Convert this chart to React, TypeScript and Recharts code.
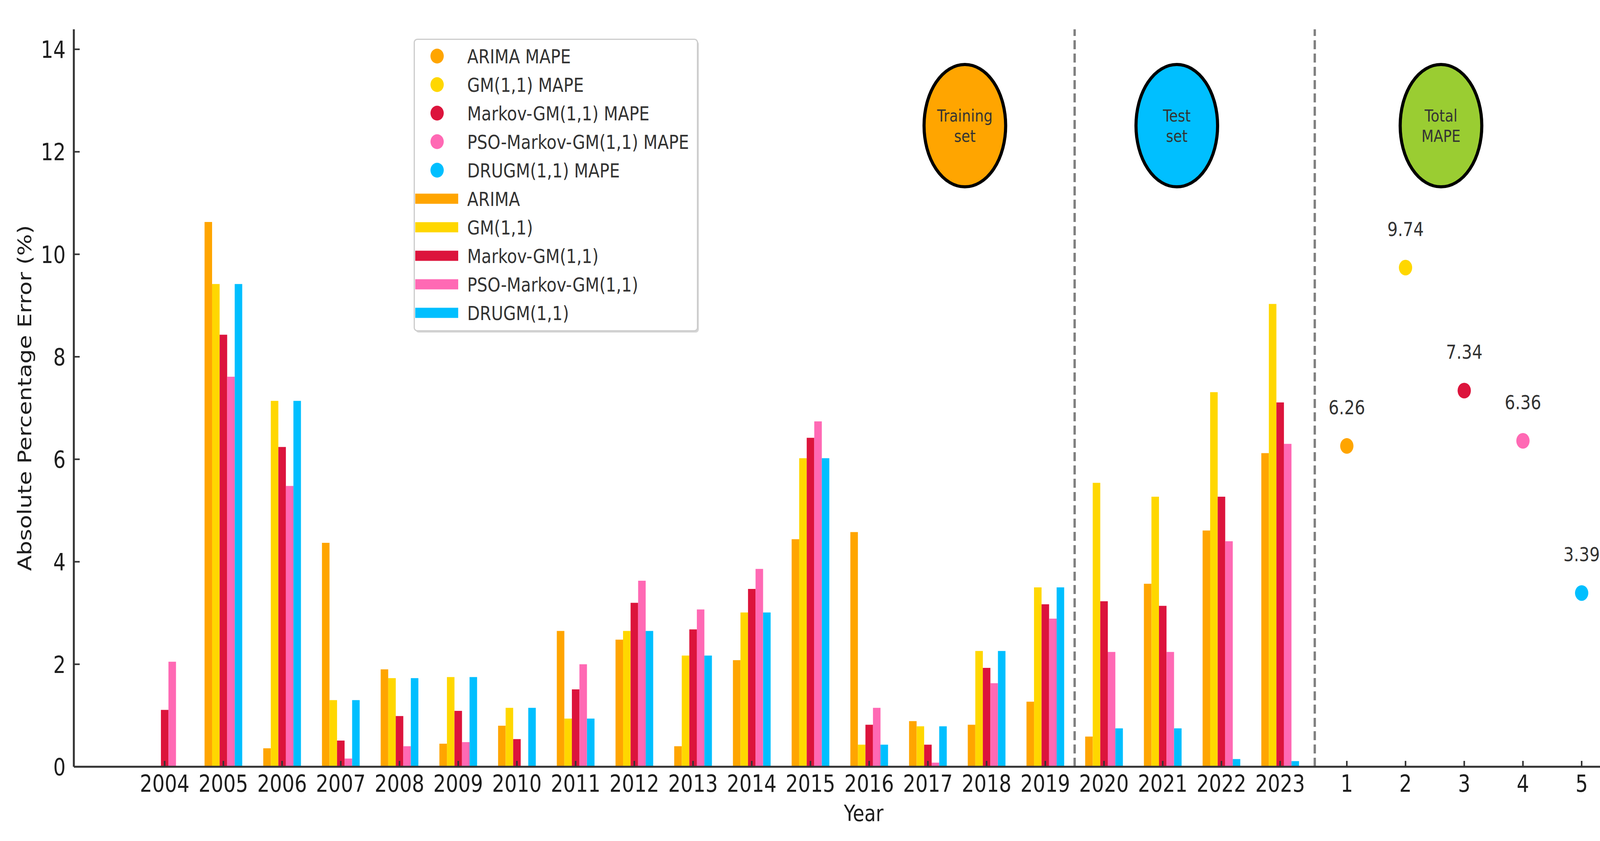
import React from 'react';
import {
  ComposedChart, Bar, Scatter, XAxis, YAxis, Legend, ReferenceLine, ReferenceArea,
} from 'recharts';

// ---------- data ----------
const years = ['2004','2005','2006','2007','2008','2009','2010','2011','2012','2013','2014','2015','2016','2017','2018','2019','2020','2021','2022','2023'];
const arima = [0, 10.63, 0.36, 4.37, 1.90, 0.45, 0.80, 2.65, 2.48, 0.40, 2.08, 4.44, 4.58, 0.89, 0.82, 1.27, 0.59, 3.57, 4.61, 6.12];
const gm11 = [0, 9.42, 7.14, 1.30, 1.73, 1.75, 1.15, 0.94, 2.65, 2.17, 3.01, 6.02, 0.43, 0.79, 2.26, 3.50, 5.54, 5.27, 7.31, 9.03];
const markovGm = [1.11, 8.43, 6.24, 0.51, 0.99, 1.09, 0.54, 1.51, 3.20, 2.68, 3.47, 6.42, 0.82, 0.43, 1.93, 3.17, 3.23, 3.14, 5.27, 7.11];
const psoMarkovGm = [2.05, 7.61, 5.48, 0.16, 0.40, 0.48, 0, 2.00, 3.63, 3.07, 3.86, 6.74, 1.15, 0.08, 1.63, 2.89, 2.24, 2.24, 4.40, 6.30];
const drugm = [0, 9.42, 7.14, 1.30, 1.73, 1.75, 1.15, 0.94, 2.65, 2.17, 3.01, 6.02, 0.43, 0.79, 2.26, 3.50, 0.75, 0.75, 0.15, 0.11];

const modelNames = ['ARIMA', 'GM(1,1)', 'Markov-GM(1,1)', 'PSO-Markov-GM(1,1)', 'DRUGM(1,1)'];
const modelColors = ['#FFA500', '#FFD700', '#DC143C', '#FF69B4', '#00BFFF'];
const modelSeries = [arima, gm11, markovGm, psoMarkovGm, drugm];

const mapeLabels = ['1', '2', '3', '4', '5'];
const mapePositions = [20.136, 21.136, 22.136, 23.136, 24.136];
const mapeValues = [6.26, 9.74, 7.34, 6.36, 3.39];

const yTicks = [0, 2, 4, 6, 8, 10, 12, 14];
const splitPositions = [15.5, 19.59];

const phaseLines = [['Training', 'set'], ['Test', 'set'], ['Total', 'MAPE']];
const phaseCenters = [13.63, 17.24, 21.74];
const phaseColors = ['#FFA500', '#00BFFF', '#9ACD32'];
const phaseCenterY = 12.51;
const phaseHalfW = 0.695;
const phaseHalfH = 1.194;

// ---------- derived tables ----------
const barRows = years.map((yr, i) => {
  const row: any = { x: i, year: yr };
  modelNames.forEach((n, k) => { row[n] = modelSeries[k][i]; });
  return row;
});
const xTicks = [...years.map((_, i) => i), ...mapePositions];
const xTickLabels = [...years, ...mapeLabels];
const labelOfTick = (v: number) => {
  let best = 0; let bd = Infinity;
  xTicks.forEach((t, i) => { const d = Math.abs(t - v); if (d < bd) { bd = d; best = i; } });
  return xTickLabels[best];
};
const mapeNames = modelNames.map((n) => `${n} MAPE`);
const legendOrder = [...mapeNames, ...modelNames];

// ---------- style ----------
const W = 4271;
const H = 2152;
const FONT = 'DejaVu Sans';
const SY = 1.2;
const TXT = '#1e1e1e';

const XTick = (props: any) => {
  const { x, y, payload } = props;
  return (
    <g transform={`translate(${x},${y + 64}) scale(1,${SY})`}>
      <text x={0} y={0} textAnchor="middle" fontSize={50} fontFamily={FONT} fill={TXT}>{labelOfTick(payload.value)}</text>
    </g>
  );
};

const YTick = (props: any) => {
  const { x, y, payload } = props;
  return (
    <g transform={`translate(${x - 21},${y + 22}) scale(1,${SY})`}>
      <text x={0} y={0} textAnchor="end" fontSize={50} fontFamily={FONT} fill={TXT}>{payload.value}</text>
    </g>
  );
};

const YLabel = (props: any) => {
  const vb = props.viewBox || { x: 69, y: 75, width: 120, height: 1887 };
  const cy = vb.y + vb.height / 2;
  return (
    <g transform={`translate(80,${cy}) scale(1,1.22) rotate(-90)`}>
      <text x={0} y={0} textAnchor="middle" fontSize={48} fontFamily={FONT} fill={TXT}>Absolute Percentage Error (%)</text>
    </g>
  );
};

const XLabel = (props: any) => {
  const vb = props.viewBox || { x: 189, y: 1962, width: 4044, height: 150 };
  const cx = vb.x + vb.width / 2;
  return (
    <g transform={`translate(${cx},${vb.y + 139}) scale(1,${SY})`}>
      <text x={0} y={0} textAnchor="middle" fontSize={48} fontFamily={FONT} fill={TXT}>Year</text>
    </g>
  );
};

const PointShape = (props: any) => {
  const { cx, cy, fill, payload } = props;
  if (cx == null || cy == null) return null;
  return (
    <g>
      <ellipse cx={cx} cy={cy} rx={17} ry={20} fill={fill} />
      <g transform={`translate(${cx},${cy - 81}) scale(1,${SY})`}>
        <text x={0} y={0} textAnchor="middle" fontSize={42} fontFamily={FONT} fill="#333">{Number(payload.y).toFixed(2)}</text>
      </g>
    </g>
  );
};

const makePhaseShape = (idx: number) => (props: any) => {
  const { x, y, width, height } = props;
  if (x == null) return null;
  const cx = x + width / 2;
  const cy = y + height / 2;
  const lines = phaseLines[idx];
  return (
    <g>
      <ellipse cx={cx} cy={cy} rx={width / 2} ry={height / 2} fill={phaseColors[idx]} stroke="#000" strokeWidth={8} />
      <g transform={`translate(${cx},${cy - 11}) scale(1,${SY})`}>
        <text x={0} y={0} textAnchor="middle" fontSize={36} fontFamily={FONT} fill="#333">{lines[0]}</text>
      </g>
      <g transform={`translate(${cx},${cy + 41}) scale(1,${SY})`}>
        <text x={0} y={0} textAnchor="middle" fontSize={36} fontFamily={FONT} fill="#333">{lines[1]}</text>
      </g>
    </g>
  );
};

const LW = 728;
const LH = 749;
const renderLegend = (props: any) => {
  const payload = [...(props.payload || [])];
  payload.sort((a: any, b: any) => legendOrder.indexOf(a.value) - legendOrder.indexOf(b.value));
  return (
    <svg width={LW + 8} height={LH + 8} style={{ display: 'block', overflow: 'visible' }}>
      <rect x={5} y={6} width={LW - 3} height={LH - 3} rx={8} fill="#d6d6d6" />
      <rect x={1.5} y={1.5} width={LW - 3} height={LH - 3} rx={8} fill="#ffffff" stroke="#cccccc" strokeWidth={3} />
      {payload.map((item: any, i: number) => {
        const cy = 44.5 + 73 * i;
        const isPoint = String(item.value).endsWith('MAPE');
        return (
          <g key={item.value}>
            {isPoint
              ? <ellipse cx={60} cy={cy} rx={17} ry={19} fill={item.color} />
              : <rect x={4} y={cy - 13} width={110} height={26} fill={item.color} />}
            <g transform={`translate(137,${cy + 18}) scale(1,${SY})`}>
              <text x={0} y={0} fontSize={42} fontFamily={FONT} fill="#333">{item.value}</text>
            </g>
          </g>
        );
      })}
    </svg>
  );
};

export default function App() {
  return (
    <div style={{ position: 'absolute', left: 0, top: 0, width: W, height: H, background: '#fff' }}>
      <ComposedChart
        width={W}
        height={H}
        data={barRows}
        margin={{ top: 75, right: 38, left: 69, bottom: 40 }}
        barGap={0}
        barSize={19.3}
      >
        <XAxis
          dataKey="x"
          type="number"
          domain={[-1.547, 25.36]}
          ticks={xTicks}
          interval={0}
          allowDataOverflow
          height={150}
          tickSize={-15}
          tickMargin={15}
          tick={XTick}
          axisLine={{ stroke: '#333', strokeWidth: 5 }}
          tickLine={{ stroke: '#333', strokeWidth: 4 }}
          label={XLabel}
        />
        <YAxis
          type="number"
          domain={[0, 14.39]}
          ticks={yTicks}
          interval={0}
          allowDataOverflow
          width={120}
          tickSize={-15}
          tickMargin={15}
          tick={YTick}
          axisLine={{ stroke: '#333', strokeWidth: 5 }}
          tickLine={{ stroke: '#333', strokeWidth: 4 }}
          label={YLabel}
        />
        {splitPositions.map((p) => (
          <ReferenceLine key={p} x={p} stroke="#808080" strokeWidth={6} strokeDasharray="23 11" />
        ))}
        {phaseCenters.map((c, i) => (
          <ReferenceArea
            key={i}
            x1={c - phaseHalfW}
            x2={c + phaseHalfW}
            y1={phaseCenterY - phaseHalfH}
            y2={phaseCenterY + phaseHalfH}
            shape={makePhaseShape(i)}
          />
        ))}
        {modelNames.map((n, k) => (
          <Bar key={n} dataKey={n} name={n} fill={modelColors[k]} isAnimationActive={false} legendType="rect" />
        ))}
        {modelNames.map((n, k) => (
          <Scatter
            key={`s${n}`}
            name={mapeNames[k]}
            data={[{ x: mapePositions[k], y: mapeValues[k] }]}
            dataKey="y"
            fill={modelColors[k]}
            shape={PointShape}
            legendType="circle"
            isAnimationActive={false}
          />
        ))}
        <Legend
          layout="vertical"
          verticalAlign="middle"
          align="center"
          content={renderLegend}
          wrapperStyle={{ position: 'absolute', left: 1059, top: 99, width: LW + 8, height: LH + 8 }}
        />
      </ComposedChart>
    </div>
  );
}
